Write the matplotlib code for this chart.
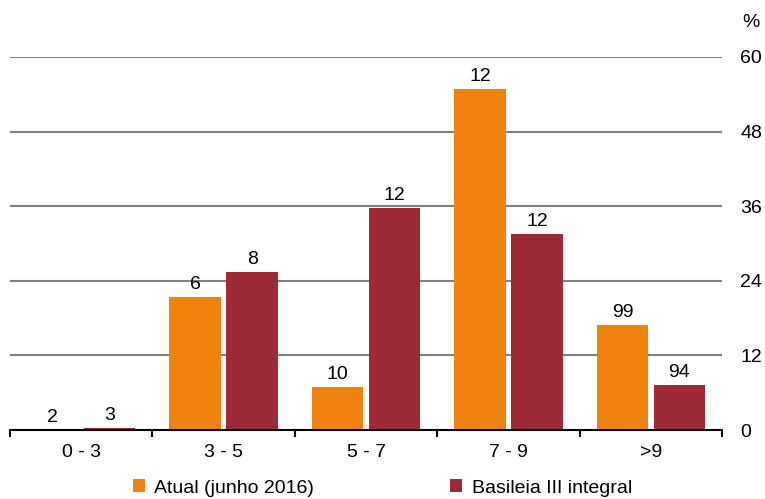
import matplotlib
matplotlib.use("Agg")
import matplotlib.pyplot as plt
import numpy as np

plt.rcParams['font.family'] = ['Liberation Sans', 'DejaVu Sans']

categories = ["0 - 3", "3 - 5", "5 - 7", "7 - 9", ">9"]
atual = [0.0, 21.4, 6.9, 54.8, 16.9]
basileia = [0.3, 25.4, 35.7, 31.5, 7.2]
atual_labels = ["2", "6", "10", "12", "99"]
basileia_labels = ["3", "8", "12", "12", "94"]
yticks = [0, 12, 24, 36, 48, 60]

c_or = "#F0820E"
c_red = "#9E2A38"
fs = 14

fig = plt.figure(figsize=(7.65, 4.99), dpi=100)
ax = fig.add_axes([0.013, 0.138, 0.931, 0.748])

x = np.arange(len(categories))
w = 0.36
off = 0.2
b1 = ax.bar(x - off, atual, w, color=c_or, label="Atual (junho 2016)", zorder=3)
b2 = ax.bar(x + off, basileia, w, color=c_red, label="Basileia III integral", zorder=3)

for xi, v, t in zip(x - off, atual, atual_labels):
    ax.annotate(t, (xi, v), xytext=(0, 3), textcoords="offset points",
                ha="center", va="bottom", fontsize=fs)
for xi, v, t in zip(x + off, basileia, basileia_labels):
    ax.annotate(t, (xi, v), xytext=(0, 3), textcoords="offset points",
                ha="center", va="bottom", fontsize=fs)

ax.set_xlim(-0.5, len(categories) - 0.5)
ax.set_ylim(0, 60)
ax.set_yticks(yticks)
for yv in yticks[1:]:
    ax.axhline(yv, color="#808080", lw=1.5, zorder=1)
ax.yaxis.tick_right()
ax.tick_params(axis="y", length=0, labelsize=fs, pad=13)
ax.set_xticks(x)
ax.set_xticklabels(categories, fontsize=fs)
ax.tick_params(axis="x", length=0, pad=10)
ax.set_xticks(np.arange(len(categories) + 1) - 0.5, minor=True)
ax.tick_params(axis="x", which="minor", length=5, width=1.5, direction="out", color="black")

for s in ["top", "right", "left"]:
    ax.spines[s].set_visible(False)
ax.spines["bottom"].set_linewidth(1.5)
ax.spines["bottom"].set_zorder(4)

ax.annotate("%", xy=(1, 1), xycoords="axes fraction", xytext=(21, 25),
            textcoords="offset points", ha="center", va="center", fontsize=fs)

fig.legend(handles=[b1, b2], loc="center", bbox_to_anchor=(0.5, 11 / 499),
           ncol=2, frameon=False, fontsize=fs, handlelength=0.62, handleheight=0.62,
           columnspacing=7.0, handletextpad=0.5)

fig.savefig("out.png", dpi=100)
